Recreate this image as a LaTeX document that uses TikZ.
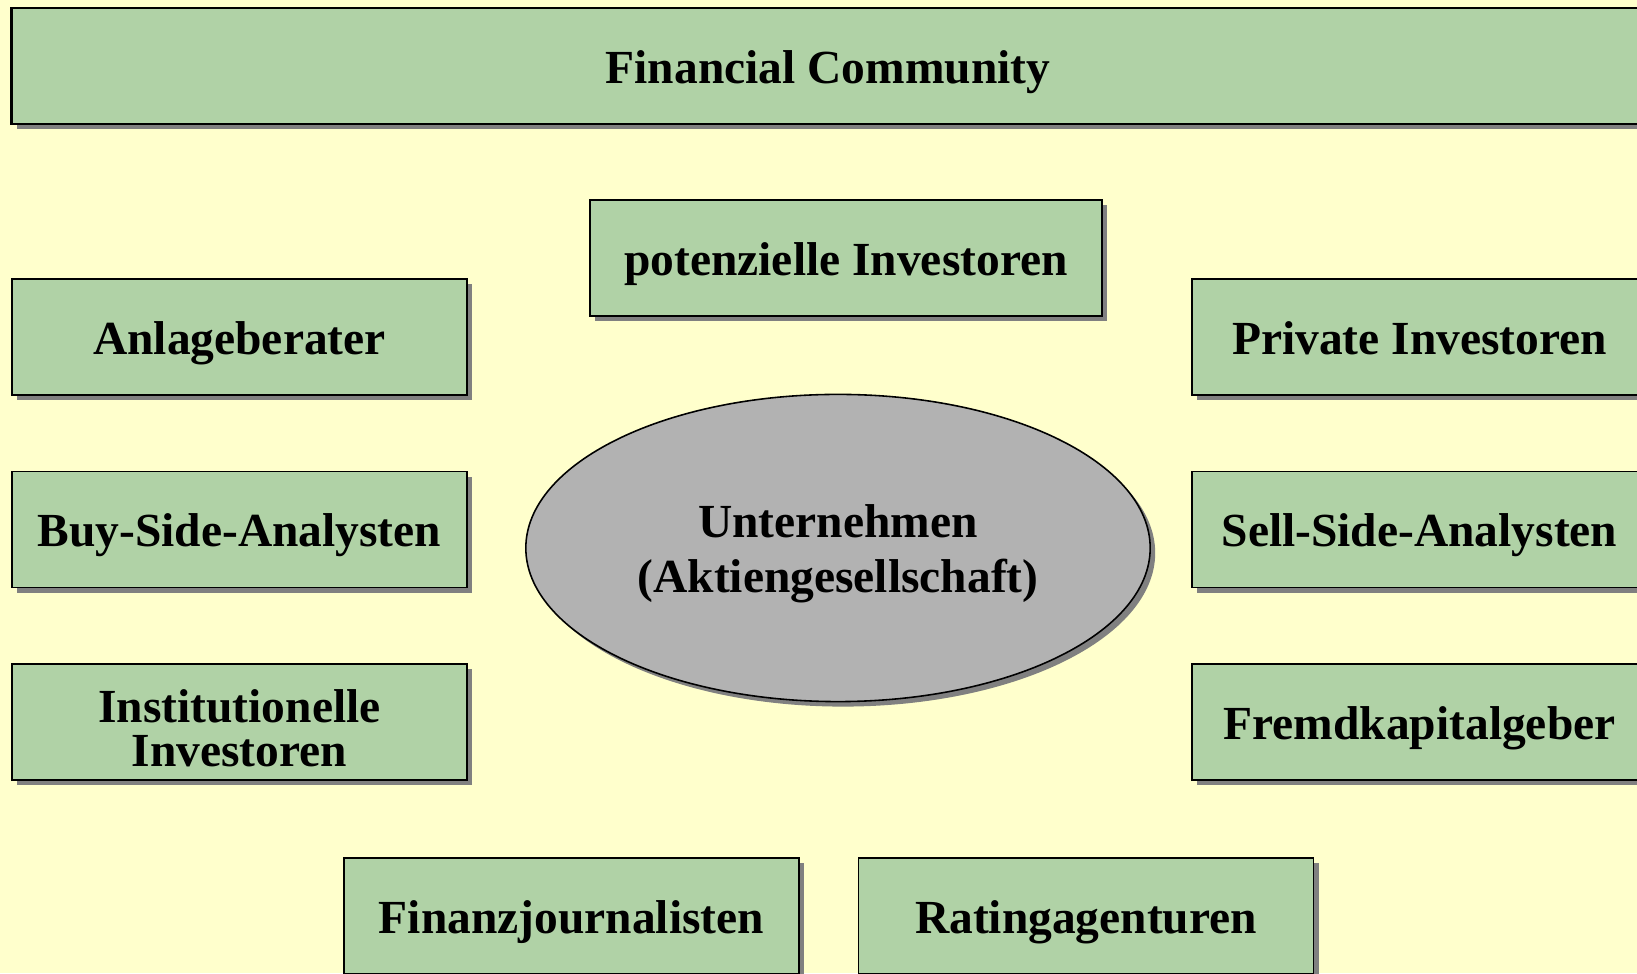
\documentclass[tikz,border=0pt]{standalone}
\usepackage{fontspec}
\setmainfont{Liberation Serif}
\usetikzlibrary{shapes.geometric,shadows}

\definecolor{paper}{HTML}{FFFFCC}
\definecolor{boxgreen}{HTML}{B0D2A6}
\definecolor{ovalgray}{HTML}{B2B2B2}
\definecolor{shadegray}{HTML}{808080}

\begin{document}
\begin{tikzpicture}[x=0.01cm,y=0.01cm,node distance=1.925cm,
  group/.style={rectangle,draw=black,line width=0.45pt,fill=boxgreen,
    minimum width=4.55cm,minimum height=1.16cm,inner sep=0pt,align=center,
    text height=9.7pt,text depth=0pt,
    font=\fontsize{13.5}{12.5}\selectfont\bfseries,
    drop shadow={shadow xshift=0.05cm,shadow yshift=-0.05cm,fill=shadegray,opacity=1}}]
 %\tikzstyle{every node}=[draw=none]

 \useasboundingbox (0,0) rectangle (1637,973);
 \clip (0,0) rectangle (1637,973);
 \fill[paper] (0,0) rectangle (1637,973);

 \node[group,minimum width=16.32cm,line width=0.6pt] (fc) at (828,907) {Financial Community};
 \node[group,minimum width=5.12cm] (pot) at (846,715) {potenzielle Investoren};

 \node[group] (anlage) at (239.5,636) {Anlageberater};
 \node[group] (buy)    [below of=anlage] {Buy-Side-Analysten};
 \node[group,text height=25pt] (inst) [below of=buy] {Institutionelle\\Investoren\ };

 \node[group] (priv)   at (1419.5,636)   {Private Investoren};
 \node[group] (sell)   [below of=priv]   {Sell-Side-Analysten};
 \node[group] (fremd)  [below of=sell]   {Fremdkapitalgeber};

 \node[group] (journ)  at (571.5,57)     {Finanzjournalisten};
 \node[group] (rating) at (1086,57)      {Ratingagenturen};

 \node[group,ellipse,fill=ovalgray,minimum width=6.24cm,minimum height=3.07cm,
   text height=25.2pt,font=\fontsize{13.5}{15.6}\selectfont\bfseries] (ag) at (838,425)
   {Unternehmen\\(Aktiengesellschaft)};
\end{tikzpicture}
\end{document}
